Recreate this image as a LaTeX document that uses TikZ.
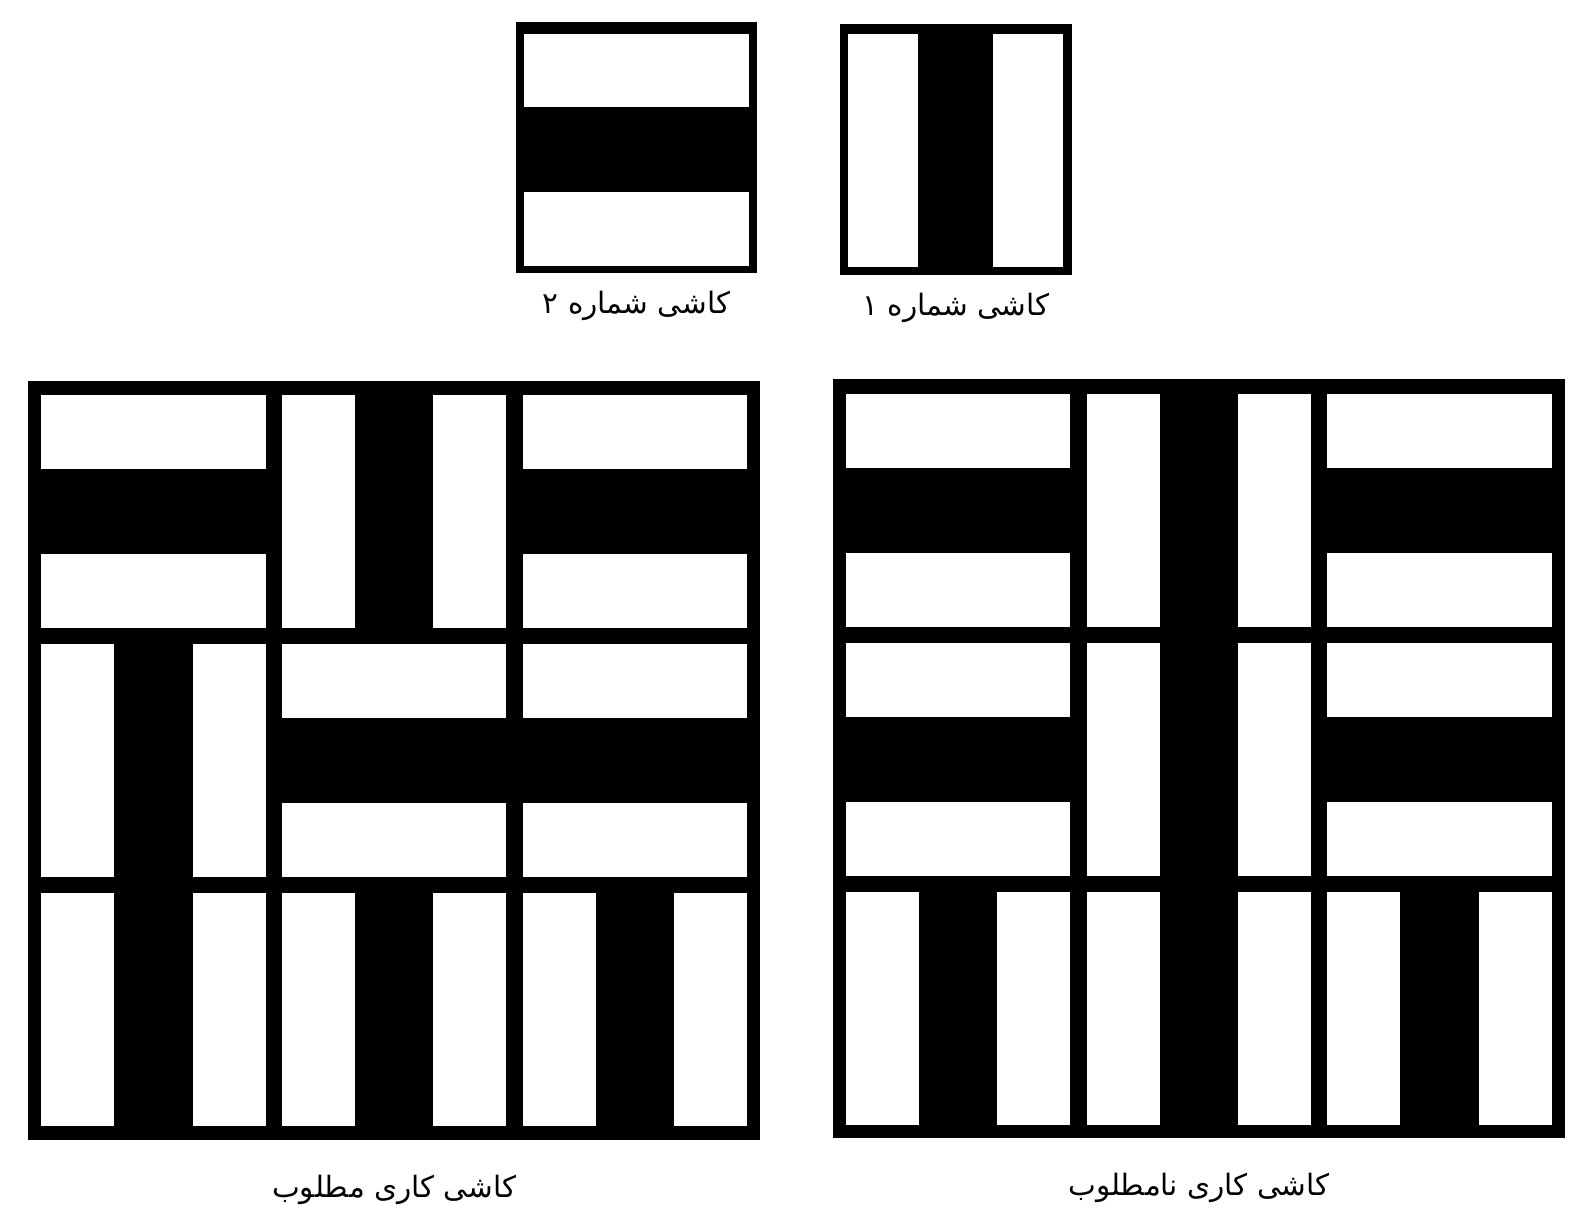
\documentclass[tikz,border=0pt]{standalone}
\usepackage{fontspec}
\usepackage{tikz}
\usetikzlibrary{positioning}
\TeXXeTstate=1
\newfontfamily\arabicfont[Script=Arabic]{DejaVu Sans}

\begin{document}
\begin{tikzpicture}[x=1pt, y=-1pt, node distance=17pt]
        \tikzstyle{tilebox} = [rectangle, fill=black, inner sep=0pt, minimum width=237pt, minimum height=247pt]
        \tikzstyle{frame} = [rectangle, fill=black, inner sep=0pt, minimum width=720pt, minimum height=747pt]
        \tikzstyle{caption} = [font=\arabicfont\fontsize{29}{35}\selectfont, inner sep=0pt]
        \tikzstyle{stripe} = [fill=white]

        \useasboundingbox (0,0) rectangle (1568,1207);

        % the two single tiles
        \node [tilebox] (tile2) at (626.5,145.5) {};
        \node [tilebox, minimum width=228pt] (tile1) at (941,147.5) {};
        \fill [stripe] (516,33) rectangle (737,105);
        \fill [stripe] (516,189) rectangle (737,262);
        \fill [stripe] (835,33) rectangle (904,263);
        \fill [stripe] (977,33) rectangle (1046,263);

        \node [caption, below=of tile2] (cap2) {\beginR کاشی شماره ۲\endR};
        \node [caption, below=of tile1] (cap1) {\beginR کاشی شماره ۱\endR};

        % the two tilings
        \node [frame] (good) at (388,748.5) {};
        \node [frame] (bad) at (1180,747) {};

        % horizontal tiles
        \foreach \x/\y in {32.5/381, 506.5/381, 269.5/626, 506.5/626,
                824.5/380, 1298.5/380, 824.5/625, 1298.5/625} {
            \fill [stripe] (\x+8,\y+8) rectangle ++(221,73);
            \fill [stripe] (\x+8,\y+164) rectangle ++(221,73);
        }
        % vertical tiles
        \foreach \x/\y in {269.5/381, 32.5/626, 32.5/871, 269.5/871, 506.5/871,
                1061.5/380, 1061.5/625, 824.5/870, 1061.5/870, 1298.5/870} {
            \fill [stripe] (\x+8,\y+8) rectangle ++(72,229);
            \fill [stripe] (\x+157,\y+8) rectangle ++(72,229);
        }

        \node [caption, below=34pt of good] (capgood) {\beginR کاشی کاری مطلوب\endR};
        \node [caption, below=34pt of bad] (capbad) {\beginR کاشی کاری نامطلوب\endR};
    \end{tikzpicture}
\end{document}
